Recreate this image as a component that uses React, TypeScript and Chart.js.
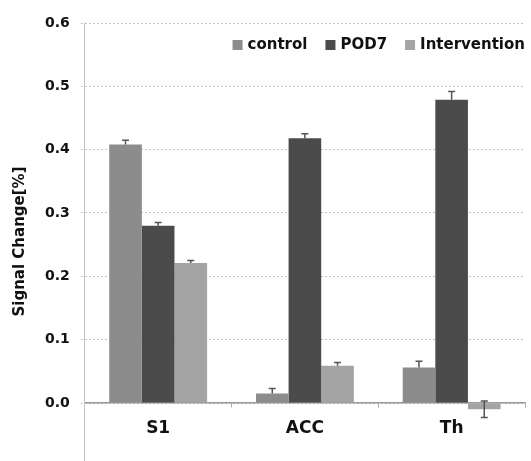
import React, { useEffect, useRef } from "react";
import { Chart, registerables } from "chart.js";

Chart.register(...registerables);

const categories = ["S1", "ACC", "Th"];
const seriesNames = ["control", "POD7", "Intervention"];
const controlValues = [0.408, 0.015, 0.056];
const pod7Values = [0.280, 0.418, 0.479];
const interventionValues = [0.221, 0.059, -0.010];
const controlErrors = [0.007, 0.008, 0.010];
const pod7Errors = [0.005, 0.007, 0.013];
const interventionErrors = [0.004, 0.005, 0.013];
const yTicks = [0.0, 0.1, 0.2, 0.3, 0.4, 0.5, 0.6];

const colors = ["#8c8c8c", "#4b4b4b", "#a4a4a4"];
const FONT = "'DejaVu Sans', sans-serif";

const errorBarPlugin = {
  id: "errorBars",
  afterDatasetsDraw(chart: any) {
    const ctx = chart.ctx;
    const yScale = chart.scales.y;
    chart.data.datasets.forEach((ds: any, i: number) => {
      const meta = chart.getDatasetMeta(i);
      meta.data.forEach((el: any, j: number) => {
        const v = ds.data[j];
        const e = ds.errors[j];
        const yTop = yScale.getPixelForValue(v + e);
        const yBot = yScale.getPixelForValue(v - e);
        const yVal = yScale.getPixelForValue(v);
        const x = el.x;
        ctx.save();
        ctx.strokeStyle = "#555555";
        ctx.lineWidth = 1.5;
        ctx.beginPath();
        if (v >= 0) {
          ctx.moveTo(x, yVal);
          ctx.lineTo(x, yTop);
          ctx.moveTo(x - 3.5, yTop);
          ctx.lineTo(x + 3.5, yTop);
        } else {
          ctx.moveTo(x, yTop);
          ctx.lineTo(x, yBot);
          ctx.moveTo(x - 3.5, yTop);
          ctx.lineTo(x + 3.5, yTop);
          ctx.moveTo(x - 3.5, yBot);
          ctx.lineTo(x + 3.5, yBot);
        }
        ctx.stroke();
        ctx.restore();
      });
    });
  },
};

const legendPlugin = {
  id: "innerLegend",
  afterDraw(chart: any) {
    const ctx = chart.ctx;
    const area = chart.chartArea;
    ctx.save();
    ctx.font = `bold 15px ${FONT}`;
    ctx.textBaseline = "middle";
    const y = area.top + 22;
    const box = 10;
    const gapBoxText = 5;
    const gapItems = 18;
    const items = chart.data.datasets.map((ds: any) => ({
      label: ds.label,
      color: ds.backgroundColor,
      w: ctx.measureText(ds.label).width,
    }));
    let total = 0;
    items.forEach((it: any, i: number) => {
      total += box + gapBoxText + it.w + (i < items.length - 1 ? gapItems : 0);
    });
    let x = area.right - total;
    items.forEach((it: any) => {
      ctx.fillStyle = it.color;
      ctx.fillRect(x, y - box / 2, box, box);
      x += box + gapBoxText;
      ctx.fillStyle = "#111";
      ctx.fillText(it.label, x, y);
      x += it.w + gapItems;
    });
    ctx.restore();
  },
};

export default function App() {
  const ref = useRef<HTMLCanvasElement>(null);
  useEffect(() => {
    document.body.style.margin = "0";
    const valuesList = [controlValues, pod7Values, interventionValues];
    const errList = [controlErrors, pod7Errors, interventionErrors];
    const chart = new Chart(ref.current!, {
      type: "bar",
      data: {
        labels: categories,
        datasets: seriesNames.map((name, i) => ({
          label: name,
          data: valuesList[i],
          errors: errList[i],
          backgroundColor: colors[i],
          borderWidth: 0,
          categoryPercentage: 0.667,
          barPercentage: 1.0,
        })) as any,
      },
      options: {
        animation: false,
        responsive: false,
        maintainAspectRatio: false,
        layout: { padding: { top: 23, right: 6, bottom: 1, left: 11 } },
        plugins: {
          legend: { display: false },
          tooltip: { enabled: false },
        },
        scales: {
          x: {
            position: { y: 0 } as any,
            afterFit: (axis: any) => {
              axis.height = 0;
              axis.paddingTop = 0;
              axis.paddingBottom = 0;
            },
            grid: {
              drawOnChartArea: false,
              drawTicks: true,
              tickLength: 4,
              color: "#aaa",
              offset: true,
            },
            border: { display: true, color: "#9a9a9a", width: 1.5 },
            ticks: {
              color: "#111",
              padding: 11,
              font: { family: FONT, size: 17, weight: "bold" },
            },
          },
          y: {
            min: -0.09,
            max: 0.6,
            afterFit: (axis: any) => {
              axis.paddingTop = 0;
              axis.paddingBottom = 0;
            },
            afterBuildTicks: (axis: any) => {
              axis.ticks = yTicks.map((v) => ({ value: v }));
            },
            ticks: {
              color: "#111",
              padding: 11,
              callback: (v: any) => Number(v).toFixed(1),
              font: { family: FONT, size: 14, weight: "bold" },
            },
            grid: {
              color: "#c4c4c4",
              drawTicks: true,
              tickLength: 4,
              lineWidth: 1,
              tickBorderDash: [2, 2],
            },
            border: { display: true, color: "#c4c4c4", dash: [2, 2] },
            title: {
              display: true,
              text: "Signal Change[%]",
              color: "#111",
              padding: { top: 0, bottom: 5 },
              font: { family: FONT, size: 15, weight: "bold" },
            },
          },
        },
      },
      plugins: [errorBarPlugin, legendPlugin],
    });
    return () => chart.destroy();
  }, []);
  return <canvas ref={ref} width={531} height={461} style={{ display: "block" }} />;
}
